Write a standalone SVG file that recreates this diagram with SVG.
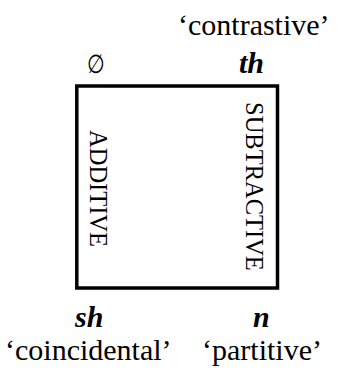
<svg xmlns="http://www.w3.org/2000/svg" width="337" height="369" viewBox="0 0 337 369">
<style>
.t{font-family:"Liberation Serif","Times New Roman",serif;font-size:30px;fill:#000}
.bi{font-family:"Liberation Serif","Times New Roman",serif;font-size:30px;font-weight:bold;font-style:italic;fill:#000}
.v{font-family:"Liberation Serif","Times New Roman",serif;font-size:24.5px;fill:#000}
.sym{font-family:"DejaVu Sans","Liberation Sans",sans-serif;font-size:26px;fill:#000}
</style>
<rect width="337" height="369" fill="#fff"/>
<g id="square">
<rect x="76.8" y="86" width="200.7" height="202" fill="none" stroke="#000" stroke-width="3.5"/>
<text class="v" transform="translate(90,130) rotate(90)">ADDITIVE</text>
<text class="v" transform="translate(246,102) rotate(90)">SUBTRACTIVE</text>
</g>
<g id="corner-tl"><text class="sym" transform="translate(87,73) scale(0.78,1)">∅</text></g>
<g id="corner-tr"><text class="bi" x="239" y="73">th</text><text class="t" x="178" y="35">‘contrastive’</text></g>
<g id="corner-bl"><text class="bi" x="75" y="327">sh</text><text class="t" x="5" y="360">‘coincidental’</text></g>
<g id="corner-br"><text class="bi" x="253" y="327">n</text><text class="t" x="202" y="360">‘partitive’</text></g>
<g id="connectors"/>
</svg>
